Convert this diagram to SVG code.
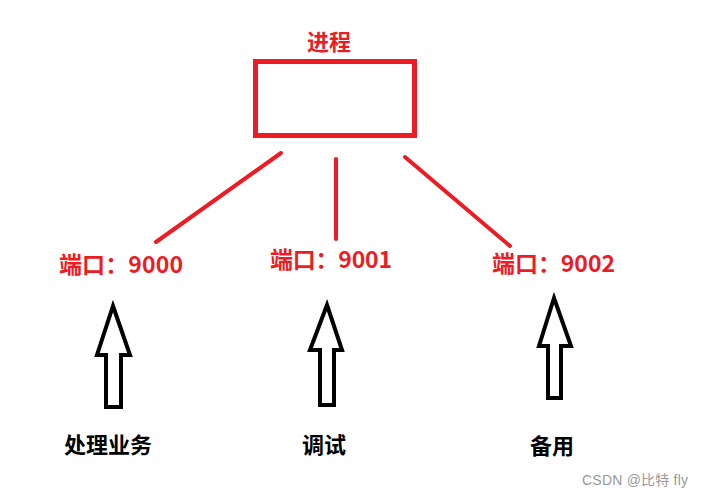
<svg xmlns="http://www.w3.org/2000/svg" width="705" height="496" viewBox="0 0 705 496">
<style>
.red{fill:#ed1c24;font-family:"Microsoft YaHei","Noto Sans CJK SC","Liberation Sans",sans-serif;font-weight:bold}
.blk{fill:#000;font-family:"Microsoft YaHei","Noto Sans CJK SC",sans-serif;font-weight:bold;font-size:22px}
.ln{stroke:#ed1c24;stroke-width:4;stroke-linecap:round;fill:none}
.arr{fill:#fff;stroke:#000;stroke-width:4;stroke-linejoin:miter}
</style>
<rect width="705" height="496" fill="#fff"/>
<g id="process">
<rect x="255.5" y="61.5" width="159" height="74" fill="none" stroke="#ed1c24" stroke-width="5"/>
<text class="red" x="329" y="50" font-size="22" text-anchor="middle">进程</text>
</g>
<g id="connectors">
<line class="ln" x1="281" y1="153" x2="156" y2="242"/>
<line class="ln" x1="336" y1="159" x2="336" y2="239"/>
<line class="ln" x1="405" y1="157" x2="510" y2="246"/>
</g>
<g id="port9000"><text class="red" x="59" y="273" font-size="23" textLength="124">端口：9000</text></g>
<g id="port9001"><text class="red" x="270" y="268" font-size="23" textLength="122">端口：9001</text></g>
<g id="port9002"><text class="red" x="492" y="272" font-size="23" textLength="123">端口：9002</text></g>
<g id="arrow1"><polygon class="arr" points="113,306 130,355 121,355 121,407 106,407 106,355 97,355"/></g>
<g id="arrow2"><polygon class="arr" points="327,305 342,350 334,350 334,405 320,405 320,350 310,350"/></g>
<g id="arrow3"><polygon class="arr" points="554,298 571,346 561,346 561,398 548,398 548,346 539,346"/></g>
<g id="label1"><text class="blk" x="108" y="453" text-anchor="middle">处理业务</text></g>
<g id="label2"><text class="blk" x="324" y="453" text-anchor="middle">调试</text></g>
<g id="label3"><text class="blk" x="552" y="454" text-anchor="middle">备用</text></g>
<text x="582" y="485" font-family="'Liberation Sans','Noto Sans CJK SC',sans-serif" font-size="14" fill="#999" textLength="106">CSDN @比特 fly</text>
</svg>
